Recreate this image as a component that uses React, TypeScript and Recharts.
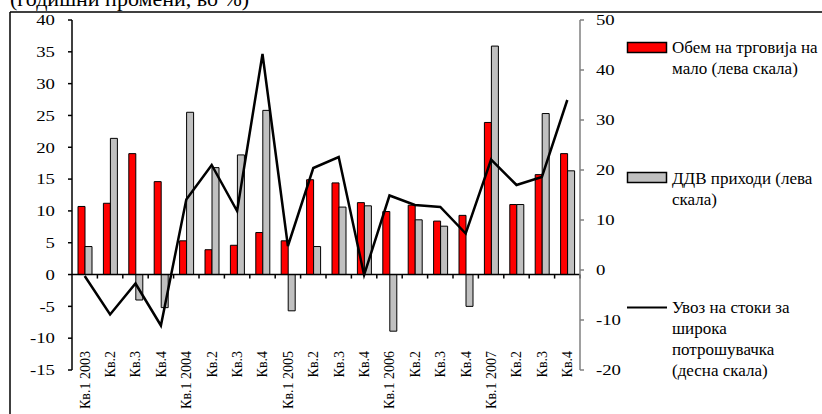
import React from 'react';
import { ComposedChart, Bar, Line, XAxis, YAxis, ReferenceLine } from 'recharts';

const QUARTERS = [
  'Кв.1 2003', 'Кв.2', 'Кв.3', 'Кв.4',
  'Кв.1 2004', 'Кв.2', 'Кв.3', 'Кв.4',
  'Кв.1 2005', 'Кв.2', 'Кв.3', 'Кв.4',
  'Кв.1 2006', 'Кв.2', 'Кв.3', 'Кв.4',
  'Кв.1 2007', 'Кв.2', 'Кв.3', 'Кв.4',
];

// retail trade volume, left scale
const RETAIL = [10.7, 11.2, 19.0, 14.6, 5.3, 3.9, 4.6, 6.6, 5.3, 14.9, 14.4, 11.3, 9.9, 10.9, 8.4, 9.3, 23.9, 11.0, 15.7, 19.0];
// VAT revenues, left scale
const VAT = [4.4, 21.4, -4.0, -5.2, 25.5, 16.8, 18.8, 25.8, -5.7, 4.4, 10.6, 10.8, -8.9, 8.6, 7.6, -5.0, 35.9, 11.0, 25.3, 16.3];
// imports of consumer goods, right scale
const IMPORTS = [-1.2, -8.9, -2.7, -11.1, 14.1, 21.0, 11.8, 43.2, 4.8, 20.4, 22.6, -1.0, 14.9, 13.0, 12.6, 7.3, 22.1, 17.0, 18.6, 34.0];

const LEFT_TICKS = [-15, -10, -5, 0, 5, 10, 15, 20, 25, 30, 35, 40];
const RIGHT_TICKS = [-20, -10, 0, 10, 20, 30, 40, 50];

const TITLE = '(годишни промени, во %)';
const LEGEND_RETAIL = ['Обем на трговија на', 'мало (лева скала)'];
const LEGEND_VAT = ['ДДВ приходи (лева', 'скала)'];
const LEGEND_IMPORTS = ['Увоз на стоки за', 'широка', 'потрошувачка', '(десна скала)'];

const FONT = '"Liberation Serif", "Times New Roman", serif';

const data = QUARTERS.map((q, i) => ({
  q,
  retail: RETAIL[i],
  vat: VAT[i],
  imports: IMPORTS[i],
}));

const XTick = (props: any) => {
  const { x, y, payload } = props;
  const ty = y - 19;
  return (
    <text
      x={x}
      y={ty}
      dy="0.35em"
      textAnchor="end"
      transform={`rotate(-90, ${x}, ${ty})`}
      fontFamily={FONT}
      fontSize={14}
      fill="#000"
    >
      {payload.value}
    </text>
  );
};

const YTick = (props: any) => {
  const { x, y, payload, textAnchor } = props;
  return (
    <text
      x={x}
      y={y}
      dy="0.35em"
      textAnchor={textAnchor}
      transform={`translate(${x},${y}) scale(1.25,1) translate(${-x},${-y})`}
      fontFamily={FONT}
      fontSize={15}
      fill="#000"
    >
      {payload.value}
    </text>
  );
};

// zero line with category separators hanging below it
const ZeroAxis = (props: any) => {
  const { x1, y1, x2 } = props;
  const n = QUARTERS.length;
  const step = (x2 - x1) / n;
  return (
    <g>
      <line x1={x1} y1={y1} x2={x2} y2={y1} stroke="#000" strokeWidth={1.5} />
      {QUARTERS.map((_, i) => (
        <line key={i} x1={x1 + step * (i + 1)} y1={y1} x2={x1 + step * (i + 1)} y2={y1 + 4} stroke="#000" strokeWidth={1.5} />
      ))}
    </g>
  );
};

const legendText: React.CSSProperties = {
  position: 'absolute',
  left: 672,
  fontFamily: FONT,
  fontSize: 17,
  lineHeight: '21px',
  whiteSpace: 'nowrap',
  color: '#000',
};

export default function App() {
  return (
    <div style={{ position: 'absolute', top: 0, left: 0, width: 822, height: 414, overflow: 'hidden', background: '#fff' }}>
      <svg width={822} height={414} style={{ position: 'absolute', top: 0, left: 0 }}>
        <text x={10} y={6} fontFamily={FONT} fontSize={22} fill="#000">{TITLE}</text>
        <line x1={10} y1={12} x2={822} y2={12} stroke="#000" strokeWidth={1.5} />
        <line x1={10} y1={12} x2={10} y2={414} stroke="#000" strokeWidth={1.5} />
      </svg>
      <div style={{ position: 'absolute', top: 0, left: 0 }}>
        <ComposedChart
          width={822}
          height={414}
          data={data}
          margin={{ top: 20, right: 202, bottom: 0, left: 10 }}
          barGap={0}
        >
          <XAxis
            dataKey="q"
            interval={0}
            axisLine={false}
            tickLine={false}
            tickSize={0}
            tickMargin={0}
            height={44}
            tick={<XTick />}
          />
          <YAxis
            yAxisId="left"
            orientation="left"
            domain={[-15, 40]}
            ticks={LEFT_TICKS}
            width={62}
            axisLine={{ stroke: '#000', strokeWidth: 1.5 }}
            tickLine={{ stroke: '#000', strokeWidth: 1.5 }}
            tickSize={4}
            tickMargin={13}
            tick={<YTick />}
          />
          <YAxis
            yAxisId="right"
            orientation="right"
            domain={[-20, 50]}
            ticks={RIGHT_TICKS}
            width={40}
            axisLine={{ stroke: '#808080', strokeWidth: 1.5 }}
            tickLine={{ stroke: '#808080', strokeWidth: 1.5 }}
            tickSize={4}
            tickMargin={12}
            tick={<YTick />}
          />
          <Bar yAxisId="left" dataKey="retail" fill="#FF0000" stroke="#000" strokeWidth={1} barSize={7} isAnimationActive={false} />
          <Bar yAxisId="left" dataKey="vat" fill="#C0C0C0" stroke="#000" strokeWidth={1} barSize={7} isAnimationActive={false} />
          <ReferenceLine yAxisId="left" y={0} shape={<ZeroAxis />} />
          <Line yAxisId="right" dataKey="imports" type="linear" stroke="#000" strokeWidth={2.5} dot={false} isAnimationActive={false} />
        </ComposedChart>
      </div>

      <svg width={822} height={414} style={{ position: 'absolute', top: 0, left: 0, pointerEvents: 'none' }}>
        <rect x={627.5} y={42.5} width={39} height={10} fill="#FF0000" stroke="#000" strokeWidth={1.5} />
        <rect x={627.5} y={172.5} width={39} height={10} fill="#C0C0C0" stroke="#000" strokeWidth={1.5} />
        <line x1={627} y1={307.5} x2={667} y2={307.5} stroke="#000" strokeWidth={2} />
      </svg>
      <div style={{ ...legendText, top: 37 }}>
        {LEGEND_RETAIL.map((t, i) => <div key={i}>{t}</div>)}
      </div>
      <div style={{ ...legendText, top: 168 }}>
        {LEGEND_VAT.map((t, i) => <div key={i}>{t}</div>)}
      </div>
      <div style={{ ...legendText, top: 297 }}>
        {LEGEND_IMPORTS.map((t, i) => <div key={i}>{t}</div>)}
      </div>
    </div>
  );
}
